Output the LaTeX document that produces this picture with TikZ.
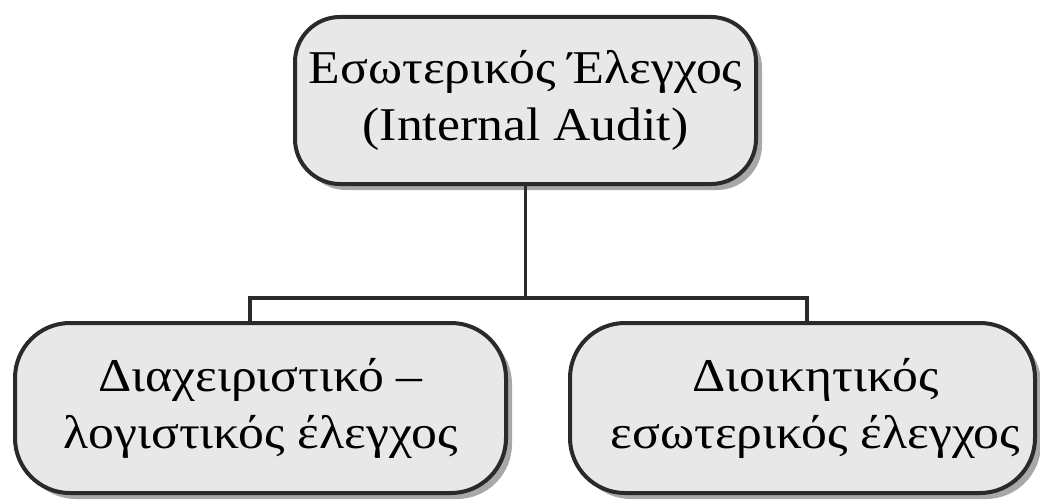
\documentclass[tikz,border=0pt]{standalone}
\usepackage{fontspec}
\setmainfont[FakeStretch=1.1]{Liberation Serif}
\usetikzlibrary{shadows}
\definecolor{boxfill}{HTML}{E8E8E8}
\definecolor{boxline}{HTML}{2A2A2A}
\definecolor{shadowgray}{HTML}{A8A8A8}
\tikzset{
  auditbox/.style={draw=boxline, line width=4pt, fill=boxfill,
    align=center, inner sep=0pt,
    font=\fontsize{47}{57}\selectfont,
    drop shadow={shadow xshift=6pt, shadow yshift=-6pt, fill=shadowgray, opacity=1}},
  link/.style={draw=boxline, line width=3.5pt}
}
\begin{document}
\begin{tikzpicture}[x=1pt,y=-1pt]
\useasboundingbox (0,0) rectangle (1040,500);
\node[auditbox, rounded corners=45pt, minimum width=461pt, minimum height=167pt]
  (top) at (525.5,100.5) {Εσωτερικός Έλεγχος\\(Internal Audit)};
\node[auditbox, rounded corners=55pt, minimum width=491pt, minimum height=170pt]
  (left) at (260.5,408) {Διαχειριστικό –\\λογιστικός έλεγχος};
\node[auditbox, rounded corners=55pt, minimum width=465pt, minimum height=170pt]
  (right) at (802.5,408) {\hspace*{26pt}Διοικητικός\\\hspace*{26pt}εσωτερικός έλεγχος};
\coordinate (hl) at (250,298);
\coordinate (hr) at (807,298);
\draw[link] (top.south) -- (top.south |- hl);
\draw[link, line cap=rect] (hl) -- (hr);
\draw[link] (hl) -- (hl |- left.north);
\draw[link] (hr) -- (hr |- right.north);
\end{tikzpicture}
\end{document}
